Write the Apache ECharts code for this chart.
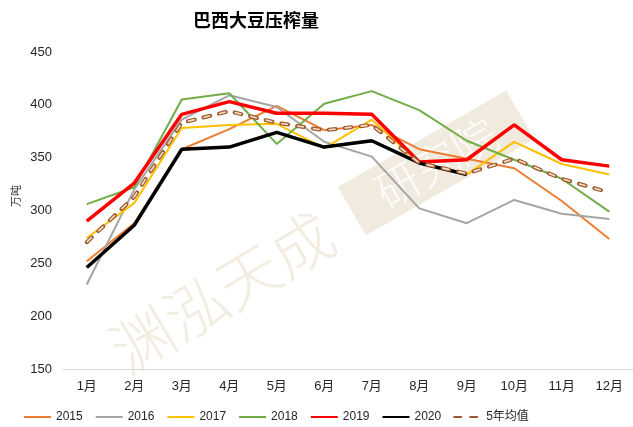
<!DOCTYPE html>
<html>
<head>
<meta charset="utf-8">
<script src="https://cdn.jsdelivr.net/npm/echarts@6/dist/echarts.min.js"></script>
<style>
html,body{margin:0;padding:0;background:#fff;}
#chart{width:633px;height:427px;}
</style>
</head>
<body>
<div id="chart"></div>
<script>
const months = ['1月','2月','3月','4月','5月','6月','7月','8月','9月','10月','11月','12月'];
const y2015 = [252, 288, 358, 377, 399, 376, 381, 358, 349, 340, 309, 273];
const y2016 = [230, 320, 386, 409, 398, 365, 351, 302, 288, 310, 297, 292];
const y2017 = [274, 307, 378, 381, 382, 359, 386, 345, 334, 365, 344, 334];
const y2018 = [306, 322, 405, 411, 363, 401, 413, 395, 366, 348, 330, 299];
const y2019 = [290, 326, 391, 403, 392, 392, 391, 346, 348, 381, 348, 342];
const y2020 = [246, 286, 358, 360, 374, 360, 366, 345, 334, null, null, null];
const avg5 = [270, 313, 383, 394, 383, 376, 381, 345, 335, 349, 330, 317];
const yTicks = { min: 150, max: 450, step: 50 };

const font = "'Liberation Sans Narrow','Arial Narrow','Liberation Sans','Noto Sans CJK SC',sans-serif";

const chart = echarts.init(document.getElementById('chart'), null, { renderer: 'canvas' });

function line(name, data, color, width, z) {
  return {
    name, type: 'line', data, symbol: 'none', z: z || 3,
    lineStyle: { color, width },
    itemStyle: { color },
    emphasis: { disabled: true },
    animation: false
  };
}

chart.setOption({
  animation: false,
  title: {
    text: '巴西大豆压榨量',
    left: 188, top: 6,
    textStyle: { fontFamily: "'Noto Sans CJK SC',sans-serif", fontWeight: 'bold', fontSize: 18, color: '#000' }
  },
  graphic: [
    {
      type: 'text', x: 222, y: 292, rotation: 0.54, z: 0,
      style: {
        text: '渊泓天成', font: "300 62px 'Noto Sans CJK SC', sans-serif",
        fill: 'rgba(226,210,180,0.4)', textAlign: 'center', textVerticalAlign: 'middle'
      }
    },
    {
      type: 'group', x: 436, y: 163, rotation: 0.52, z: 0,
      children: [
        { type: 'rect', shape: { x: -97, y: -28, width: 194, height: 56 },
          style: { fill: 'rgba(228,214,190,0.5)' } },
        { type: 'text', x: 0, y: 0,
          style: { text: '研究院', font: "300 44px 'Noto Sans CJK SC', sans-serif",
            fill: 'rgba(255,255,255,0.9)', textAlign: 'center', textVerticalAlign: 'middle' } }
      ]
    },
    {
      type: 'text', x: 16, y: 196, rotation: Math.PI / 2,
      style: { text: '万吨', font: "11px 'Noto Sans CJK SC', sans-serif", fill: '#333',
        textAlign: 'center', textVerticalAlign: 'middle' }
    }
  ],
  legend: {
    left: 18, top: 406,
    itemWidth: 27, itemHeight: 10, itemGap: 12,
    itemStyle: { opacity: 0 },
    textStyle: { fontFamily: font, fontSize: 12, color: '#262626' },
    data: ['2015','2016','2017','2018','2019','2020','5年均值']
  },
  grid: { left: 63, right: -8, top: 52, bottom: 58 },
  xAxis: {
    type: 'category', data: months, boundaryGap: true,
    axisLine: { lineStyle: { color: '#D9D9D9', width: 1 } },
    axisTick: { show: false },
    axisLabel: { fontFamily: font, fontSize: 13, color: '#262626', margin: 11 }
  },
  yAxis: {
    type: 'value', min: yTicks.min, max: yTicks.max, interval: yTicks.step,
    axisLine: { show: false }, axisTick: { show: false },
    splitLine: { show: false },
    axisLabel: { fontFamily: font, fontSize: 13, color: '#262626', margin: 11 }
  },
  series: [
    line('2015', y2015, '#ED7D31', 2),
    line('2016', y2016, '#A5A5A5', 2),
    line('2017', y2017, '#FFC000', 2),
    line('2018', y2018, '#70AD47', 2),
    line('2019', y2019, '#FF0000', 3.5, 4),
    line('2020', y2020, '#000000', 3.5, 5),
    {
      name: '5年均值', type: 'line', data: avg5, symbol: 'none', z: 6,
      lineStyle: { color: '#9C5B2E', width: 4, type: [7, 9], cap: 'round' },
      itemStyle: { color: '#9C5B2E' }, emphasis: { disabled: true }
    },
    {
      name: '5年均值', type: 'line', data: avg5, symbol: 'none', z: 7,
      lineStyle: { color: '#FBE0C8', width: 1.6, type: [7, 9], cap: 'butt' },
      itemStyle: { color: '#FBE0C8' }, emphasis: { disabled: true }
    }
  ]
});
</script>
</body>
</html>
